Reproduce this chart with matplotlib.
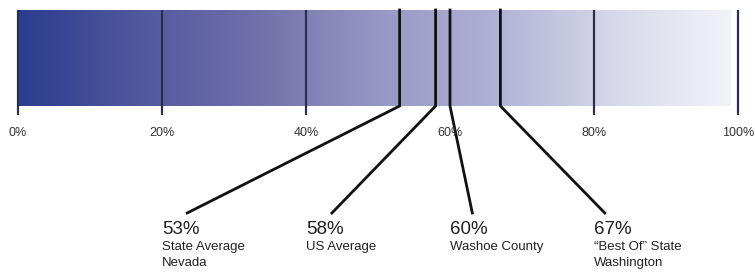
import matplotlib.pyplot as plt
import numpy as np
from matplotlib.colors import LinearSegmentedColormap

plt.rcParams["font.family"] = ["Liberation Sans", "DejaVu Sans"]

# data
tick_values = [0, 20, 40, 80, 100]
tick_labels = ["0%", "20%", "40%", "60%", "80%", "100%"]
label_ticks = [0, 20, 40, 60, 80, 100]
values = [53, 58, 60, 67]
value_labels = ["53%", "58%", "60%", "67%"]
names = ["State Average\nNevada", "US Average", "Washoe County", "\u201cBest Of\u201d State\nWashington"]

# layout (label columns and where the leader lines end)
label_x = [20, 40, 60, 80]
line_end_x = [23.5, 43.6, 63.1, 81.5]

W, H = 755, 275
fig = plt.figure(figsize=(W / 100, H / 100), dpi=100)
ax = fig.add_axes([0, 0, 1, 1])
px = 7.2  # pixels per percent
ax.set_xlim(-18 / px, (W - 18) / px)
ax.set_ylim(H, 0)
ax.axis("off")

cmap = LinearSegmentedColormap.from_list(
    "bar", ["#2a3d8e", "#50589c", "#7070aa", "#9696c4", "#b0b0d5", "#d6d7e9", "#f2f3f7"]
)
grad = np.linspace(0, 1, 512).reshape(1, -1)
ax.imshow(grad, cmap=cmap, extent=[0, 98.9, 106, 10], aspect="auto", interpolation="bilinear")

ax.vlines(tick_values, 10, 115, color="#2b2f4f", lw=1.6)
for v, t in zip(label_ticks, tick_labels):
    ax.text(v, 133, t, ha="center", va="center", fontsize=9, color="#333333")

for v, lx, ex, vl, nm in zip(values, label_x, line_end_x, value_labels, names):
    ax.plot([v, v, ex], [10, 106, 213], color="#111111", lw=2.0, solid_joinstyle="miter")
    ax.text(lx, 230, vl, ha="left", va="center", fontsize=13.5, color="#222222")
    ax.text(lx, 241, nm, ha="left", va="top", fontsize=9.5, color="#222222", linespacing=1.45)

fig.savefig("out.png", dpi=100)
